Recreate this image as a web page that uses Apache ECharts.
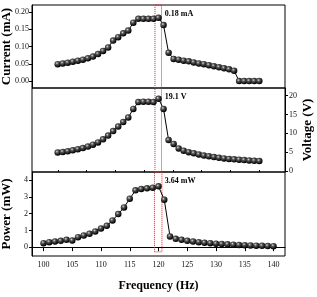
<!DOCTYPE html>
<html>
<head>
<meta charset="utf-8">
<script src="https://cdn.jsdelivr.net/npm/echarts@6/dist/echarts.min.js"></script>
<style>
  html, body { margin: 0; padding: 0; background: #fff; }
  #chart { width: 317px; height: 297px; }
</style>
</head>
<body>
<div id="chart"></div>
<script>
// frequency sweep, Hz
const freq = [100, 101, 102, 103, 104, 105, 106, 107, 108, 109, 110,
  111, 112, 113, 114, 115, 116, 117, 118, 119, 120,
  121, 122, 123, 124, 125, 126, 127, 128, 129, 130,
  131, 132, 133, 134, 135, 136, 137, 138, 139, 140];

// current, mA
const current = [0.049, 0.051, 0.053, 0.056, 0.059, 0.062, 0.066, 0.071, 0.078, 0.087, 0.097,
  0.117, 0.127, 0.138, 0.146, 0.169, 0.180, 0.180, 0.180, 0.180, 0.183,
  0.162, 0.082, 0.064, 0.062, 0.059, 0.057, 0.054, 0.051, 0.049, 0.046,
  0.043, 0.040, 0.037, 0.034, 0.030, 0.000, 0.000, 0.000, 0.000, 0.000];

// voltage, V
const voltage = [4.9, 5.05, 5.25, 5.5, 5.8, 6.1, 6.5, 7.0, 7.6, 8.4, 9.4,
  10.6, 11.8, 13.0, 14.2, 16.5, 18.3, 18.4, 18.4, 18.3, 19.2,
  16.5, 8.2, 7.2, 6.0, 5.4, 5.0, 4.7, 4.4, 4.1, 3.9,
  3.7, 3.5, 3.35, 3.2, 3.1, 3.0, 2.9, 2.8, 2.7, 2.65];

// power, mW
const power = [0.24, 0.30, 0.34, 0.38, 0.44, 0.40, 0.60, 0.70, 0.80, 0.94, 1.12,
  1.28, 1.60, 1.98, 2.38, 2.90, 3.40, 3.48, 3.52, 3.56, 3.64,
  2.84, 0.64, 0.50, 0.44, 0.38, 0.34, 0.30, 0.27, 0.24, 0.21,
  0.19, 0.17, 0.15, 0.13, 0.12, 0.10, 0.09, 0.08, 0.07, 0.06];

const peakIndex = 20;
const peakLabels = ['0.18 mA', '19.1 V', '3.64 mW'];

const freqTicks = [100, 105, 110, 115, 120, 125, 130, 135, 140];
const freqMinorTicks = [102.5, 107.5, 112.5, 117.5, 122.5, 127.5, 132.5, 137.5];
const currentTicks = [0, 0.05, 0.10, 0.15, 0.20];
const voltageTicks = [0, 5, 10, 15, 20];
const powerTicks = [0, 1, 2, 3, 4];

// dotted red box around the resonance
const boxFreq = [119.3, 120.6];

const chart = echarts.init(document.getElementById('chart'));

const serif = '"Liberation Serif", "DejaVu Serif", serif';
const ball = {
  type: 'radial', x: 0.38, y: 0.35, r: 0.62,
  colorStops: [
    { offset: 0, color: '#d8d8d8' },
    { offset: 0.35, color: '#555' },
    { offset: 1, color: '#000' }
  ]
};
const tickLabel = { fontFamily: serif, fontSize: 8, color: '#111' };
const axisName = { fontFamily: serif, fontSize: 13, fontWeight: 'bold', color: '#000' };

function pts(values, label, offset) {
  return freq.map((f, i) => {
    if (i !== peakIndex) return [f, values[i]];
    return {
      value: [f, values[i]],
      label: {
        show: true, position: 'right', distance: 3, offset: offset,
        formatter: label, fontFamily: serif, fontSize: 8, fontWeight: 'bold', color: '#000'
      }
    };
  });
}

function box(yRange) {
  const a = { xAxis: boxFreq[0] }, b = { xAxis: boxFreq[1] };
  if (yRange) { a.yAxis = yRange[0]; b.yAxis = yRange[1]; }
  return {
    silent: true,
    itemStyle: { color: 'rgba(0,0,0,0)', borderColor: '#e0202a', borderWidth: 1, borderType: 'dotted' },
    data: [[a, b]]
  };
}

const seriesBase = {
  type: 'line',
  symbol: 'circle',
  symbolSize: 6.5,
  itemStyle: { color: ball },
  lineStyle: { color: '#000', width: 1 },
  animation: false
};

const gridBase = { left: 32, right: 32, show: true, borderColor: '#000', borderWidth: 1, outerBoundsMode: 'none', containLabel: false };

const option = {
  animation: false,
  grid: [
    { ...gridBase, top: 5, height: 83 },
    { ...gridBase, top: 88, height: 84 },
    { ...gridBase, top: 172, height: 84 }
  ],
  xAxis: [
    { type: 'value', gridIndex: 0, min: 94.9, max: 145.1, show: false },
    { type: 'value', gridIndex: 1, min: 94.9, max: 145.1, show: false },
    {
      type: 'value', gridIndex: 2, min: 98, max: 142,
      axisLine: { lineStyle: { color: '#000' } },
      axisTick: { length: 4, customValues: freqTicks, lineStyle: { color: '#000' } },
      axisLabel: { customValues: freqTicks, margin: 5, ...tickLabel },
      splitLine: { show: false },
      name: 'Frequency (Hz)', nameLocation: 'middle', nameGap: 24, nameMoveOverlap: false,
      nameTextStyle: { ...axisName, fontSize: 12 }
    },
    {
      type: 'value', gridIndex: 2, min: 98, max: 142,
      axisLine: { show: false },
      axisTick: { length: 2, customValues: freqMinorTicks, lineStyle: { color: '#000' } },
      axisLabel: { show: false },
      splitLine: { show: false }
    }
  ],
  yAxis: [
    {
      type: 'value', gridIndex: 0, min: -0.02, max: 0.22,
      axisLine: { lineStyle: { color: '#000' } },
      axisTick: { length: 3, customValues: currentTicks, lineStyle: { color: '#000' } },
      axisLabel: { customValues: currentTicks, margin: 3, formatter: v => v.toFixed(2), ...tickLabel },
      splitLine: { show: false },
      name: 'Current (mA)', nameLocation: 'middle', nameGap: 19, nameRotate: 90, nameMoveOverlap: false,
      nameTextStyle: axisName
    },
    {
      type: 'value', gridIndex: 1, min: -0.27, max: 22.05, position: 'right',
      axisLine: { lineStyle: { color: '#000' } },
      axisTick: { length: 3, customValues: voltageTicks, lineStyle: { color: '#000' } },
      axisLabel: { customValues: voltageTicks, margin: 4, ...tickLabel },
      splitLine: { show: false },
      name: 'Voltage (V)', nameLocation: 'middle', nameGap: 16, nameRotate: 90, nameMoveOverlap: false,
      nameTextStyle: axisName
    },
    {
      type: 'value', gridIndex: 2, min: -0.53, max: 4.5,
      axisLine: { lineStyle: { color: '#000' } },
      axisTick: { length: 3, customValues: powerTicks, lineStyle: { color: '#000' } },
      axisLabel: { customValues: powerTicks, margin: 4, ...tickLabel },
      splitLine: { show: false },
      name: 'Power (mW)', nameLocation: 'middle', nameGap: 19, nameRotate: 90, nameMoveOverlap: false,
      nameTextStyle: axisName
    }
  ],
  series: [
    { ...seriesBase, xAxisIndex: 0, yAxisIndex: 0, data: pts(current, peakLabels[0], [0, -4]), markArea: box() },
    { ...seriesBase, xAxisIndex: 1, yAxisIndex: 1, data: pts(voltage, peakLabels[1], [0, -2]), markArea: box() },
    { ...seriesBase, xAxisIndex: 2, yAxisIndex: 2, data: pts(power, peakLabels[2], [0, -5]), markArea: box([-0.28, 4.5]) }
  ]
};

chart.setOption(option);
window.addEventListener('resize', () => chart.resize());
</script>
</body>
</html>
